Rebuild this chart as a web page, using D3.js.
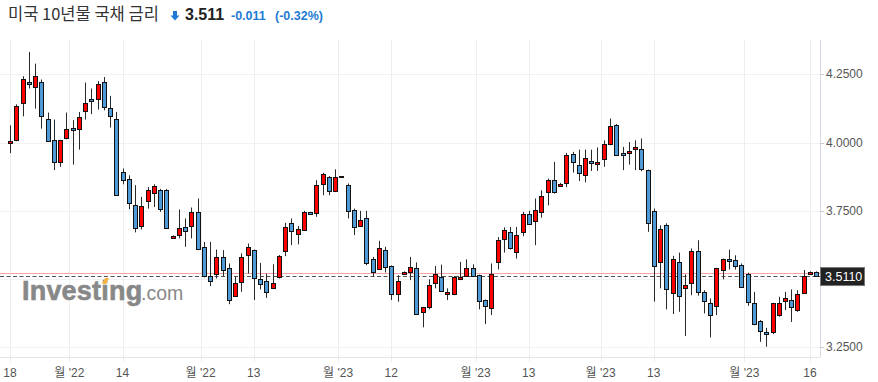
<!DOCTYPE html>
<html>
<head>
<meta charset="utf-8">
<script src="https://cdn.jsdelivr.net/npm/d3@7/dist/d3.min.js"></script>
<style>
  body { margin: 0; background: #fff; }
  svg { display: block; }
</style>
</head>
<body>
<div id="chart"></div>
<script>
let open = [3.996,4.011,4.143,4.223,4.205,4.223,4.088,4.008,3.927,4.015,
  4.055,4.048,4.116,4.161,4.161,4.220,4.128,4.088,3.892,3.865,
  3.773,3.694,3.786,3.816,3.828,3.828,3.652,3.660,3.689,3.694,
  3.746,3.618,3.513,3.520,3.581,3.539,3.437,3.488,3.586,3.606,
  3.499,3.493,3.467,3.508,3.600,3.704,3.667,3.682,3.744,3.744,
  3.847,3.872,3.824,3.877,3.846,3.752,3.696,3.725,3.575,3.536,
  3.606,3.548,3.447,3.519,3.526,3.542,3.376,3.398,3.488,3.508,
  3.444,3.444,3.499,3.511,3.542,3.514,3.423,3.392,3.561,3.645,
  3.671,3.600,3.673,3.740,3.712,3.744,3.818,3.861,3.843,3.850,
  3.957,3.919,3.883,3.932,3.919,3.938,3.994,4.066,3.963,3.960,
  3.978,3.978,3.899,3.749,3.561,3.697,3.451,3.563,3.469,3.484,
  3.603,3.451,3.414,3.401,3.533,3.572,3.569,3.551,3.520,3.414,
  3.346,3.305,3.305,3.370,3.418,3.425,3.390,3.449,3.520,3.526]

let high = [4.063,4.140,4.243,4.332,4.289,4.231,4.110,4.084,4.010,4.110,
  4.082,4.112,4.220,4.198,4.225,4.240,4.171,4.112,3.905,3.880,
  3.844,3.801,3.837,3.847,3.830,3.830,3.660,3.755,3.722,3.762,
  3.795,3.636,3.636,3.608,3.606,3.557,3.508,3.594,3.630,3.608,
  3.559,3.520,3.554,3.588,3.706,3.722,3.694,3.750,3.746,3.862,
  3.889,3.877,3.902,3.877,3.850,3.758,3.750,3.750,3.581,3.640,
  3.618,3.550,3.514,3.528,3.581,3.561,3.398,3.499,3.548,3.553,
  3.466,3.511,3.563,3.572,3.554,3.516,3.425,3.557,3.654,3.689,
  3.691,3.691,3.746,3.750,3.795,3.825,3.868,3.929,3.852,3.962,
  3.966,3.974,3.974,3.974,3.982,4.008,4.088,4.068,3.984,4.002,
  4.008,4.015,3.901,3.758,3.697,3.704,3.585,3.597,3.517,3.612,
  3.642,3.459,3.429,3.541,3.575,3.608,3.587,3.557,3.523,3.453,
  3.350,3.321,3.413,3.435,3.453,3.462,3.459,3.533,3.528,3.528]

let low = [3.961,4.005,4.096,4.198,4.124,4.051,4.005,3.899,3.911,4.012,
  3.919,3.974,4.084,4.104,4.121,4.118,4.055,3.807,3.847,3.756,
  3.671,3.682,3.758,3.764,3.746,3.687,3.650,3.649,3.618,3.649,
  3.606,3.506,3.474,3.502,3.511,3.408,3.435,3.453,3.520,3.423,
  3.462,3.431,3.463,3.502,3.584,3.624,3.627,3.680,3.736,3.728,
  3.807,3.807,3.819,3.877,3.722,3.661,3.694,3.551,3.508,3.533,
  3.524,3.423,3.417,3.517,3.496,3.368,3.323,3.389,3.466,3.453,
  3.423,3.441,3.496,3.508,3.508,3.389,3.335,3.368,3.535,3.597,
  3.608,3.575,3.657,3.700,3.624,3.725,3.770,3.813,3.841,3.837,
  3.890,3.859,3.854,3.896,3.896,3.911,3.990,3.954,3.899,3.919,
  3.899,3.895,3.673,3.417,3.466,3.389,3.372,3.380,3.291,3.441,
  3.439,3.374,3.286,3.368,3.499,3.535,3.535,3.469,3.402,3.331,
  3.270,3.252,3.298,3.362,3.386,3.343,3.380,3.445,3.518,3.509]

let close = [4.004,4.135,4.231,4.216,4.245,4.099,4.008,3.927,4.008,4.048,
  4.048,4.092,4.146,4.154,4.216,4.127,4.099,3.810,3.862,3.777,
  3.689,3.766,3.828,3.840,3.758,3.689,3.658,3.687,3.676,3.746,
  3.612,3.511,3.493,3.581,3.532,3.423,3.486,3.581,3.616,3.502,
  3.480,3.451,3.486,3.586,3.689,3.675,3.684,3.747,3.738,3.846,
  3.883,3.819,3.874,3.877,3.752,3.689,3.718,3.561,3.529,3.612,
  3.542,3.444,3.493,3.526,3.545,3.374,3.396,3.480,3.520,3.456,
  3.451,3.506,3.507,3.539,3.511,3.419,3.402,3.518,3.642,3.679,
  3.614,3.663,3.740,3.704,3.752,3.804,3.862,3.818,3.850,3.954,
  3.927,3.890,3.945,3.923,3.928,3.993,4.060,3.957,3.956,3.968,
  3.984,3.905,3.704,3.547,3.683,3.463,3.575,3.437,3.480,3.603,
  3.451,3.417,3.370,3.539,3.572,3.563,3.547,3.471,3.417,3.337,
  3.309,3.297,3.411,3.414,3.429,3.401,3.447,3.512,3.526,3.511]

let xTickIndex = [0, 9.5, 18, 30.5, 39, 52.5, 61, 74.5, 83, 94.5, 103, 117.5, 128]
let xTickLabels = ['18', "월 '22", '14', "월 '22", '13', "월 '23", '12', "월 '23", '13', "월 '23", '13', "월 '23", '16']
let yTicks = [3.25, 3.5, 3.75, 4.0, 4.25]
let yTickLabels = ['3.2500', '', '3.7500', '4.0000', '4.2500']

let lastPrice = 3.511
let prevClose = 3.522

let width = 878, height = 382
let plotRight = 820, plotTop = 40, plotBottom = 357

let candles = open.map((o, i) => ({ i: i, o: o, h: high[i], l: low[i], c: close[i] }))

let x = d3.scaleLinear()
  .domain([0, candles.length - 1])
  .range([10, 816.25])

let y = d3.scaleLinear()
  .domain([3.25, 4.25])
  .range([347.3, 74.3])

let svg = d3.select('#chart')
  .append('svg')
    .attr('width', width)
    .attr('height', height)
    .style('font-family', '"Liberation Sans", Arial, "Noto Sans CJK KR", sans-serif')

svg.append('rect')
  .attr('width', width)
  .attr('height', height)
  .attr('fill', '#fff')

//
// grid
//

svg.append('g')
  .selectAll('line')
  .data(yTicks)
  .enter().append('line')
    .attr('x1', 0)
    .attr('x2', plotRight)
    .attr('y1', d => Math.round(y(d)) + 0.5)
    .attr('y2', d => Math.round(y(d)) + 0.5)
    .attr('stroke', '#f1f1f1')

svg.append('g')
  .selectAll('line')
  .data(xTickIndex)
  .enter().append('line')
    .attr('x1', d => Math.round(x(d)) + 0.5)
    .attr('x2', d => Math.round(x(d)) + 0.5)
    .attr('y1', plotTop)
    .attr('y2', plotBottom + 5)
    .attr('stroke', '#eeeeee')

svg.append('line')
  .attr('x1', 0)
  .attr('x2', plotRight)
  .attr('y1', plotBottom + 0.5)
  .attr('y2', plotBottom + 0.5)
  .attr('stroke', '#e4e4e4')

svg.append('line')
  .attr('x1', plotRight + 0.5)
  .attr('x2', plotRight + 0.5)
  .attr('y1', plotTop)
  .attr('y2', plotBottom)
  .attr('stroke', '#d4dae3')

//
// axes labels
//

svg.append('g')
  .selectAll('text')
  .data(xTickIndex)
  .enter().append('text')
    .attr('x', d => x(d))
    .attr('y', 377)
    .attr('text-anchor', 'middle')
    .attr('font-size', 12)
    .attr('fill', '#555')
    .text((d, i) => xTickLabels[i])

let yAxis = svg.append('g')
yAxis.selectAll('line')
  .data(yTicks)
  .enter().append('line')
    .attr('x1', plotRight)
    .attr('x2', plotRight + 4)
    .attr('y1', d => Math.round(y(d)) + 0.5)
    .attr('y2', d => Math.round(y(d)) + 0.5)
    .attr('stroke', '#ccc')

yAxis.selectAll('text')
  .data(yTicks)
  .enter().append('text')
    .attr('x', 826)
    .attr('y', d => y(d) + 4)
    .attr('font-size', 12)
    .attr('fill', '#555')
    .text((d, i) => yTickLabels[i])

//
// watermark
//

let wm = svg.append('g')
let wmText = wm.append('text')
  .attr('x', 22)
  .attr('y', 300)
  .attr('font-size', 27)
  .attr('font-weight', 'bold')
  .attr('letter-spacing', 0.2)
  .attr('fill', '#888')
  .attr('stroke', '#888')
  .attr('stroke-width', 0.6)
  .text('Investing')

let iPos = wmText.node().getStartPositionOfChar(6).x
let iEnd = wmText.node().getEndPositionOfChar(6).x
let ic = (iPos + iEnd) / 2
wm.append('polygon')
  .attr('points', [[ic - 3, 284], [ic, 278], [ic + 4, 278], [ic + 1, 284]].map(p => p.join(',')).join(' '))
  .attr('fill', '#f3b441')

wm.append('text')
  .attr('x', 141)
  .attr('y', 300)
  .attr('font-size', 19.5)
  .attr('fill', '#888')
  .text('.com')

//
// price lines
//

svg.append('line')
  .attr('x1', 0)
  .attr('x2', plotRight)
  .attr('y1', Math.round(y(prevClose)) + 0.5)
  .attr('y2', Math.round(y(prevClose)) + 0.5)
  .attr('stroke', '#f5a5a5')

svg.append('line')
  .attr('x1', 0)
  .attr('x2', plotRight)
  .attr('y1', Math.round(y(lastPrice)) + 0.5)
  .attr('y2', Math.round(y(lastPrice)) + 0.5)
  .attr('stroke', '#555')
  .attr('stroke-dasharray', '4,2.5')

//
// candles
//

let g = svg.append('g')
  .selectAll('g')
  .data(candles)
  .enter().append('g')

g.append('line')
  .attr('x1', d => Math.round(x(d.i)) + 0.5)
  .attr('x2', d => Math.round(x(d.i)) + 0.5)
  .attr('y1', d => y(d.h))
  .attr('y2', d => y(d.l))
  .attr('stroke', '#2b2b2b')

g.append('rect')
  .attr('x', d => Math.round(x(d.i)) - 1.5)
  .attr('width', 4)
  .attr('y', d => Math.round(y(Math.max(d.o, d.c))) + 0.5)
  .attr('height', d => Math.max(1, Math.round(Math.abs(y(d.o) - y(d.c)))))
  .attr('fill', d => d.c >= d.o ? '#ff0000' : '#4d9ad6')
  .attr('stroke', '#111')

//
// last price label
//

svg.append('rect')
  .attr('x', plotRight + 0.5)
  .attr('y', y(lastPrice) - 8.5)
  .attr('width', 44)
  .attr('height', 18)
  .attr('fill', '#222')
  .attr('stroke', '#777')

svg.append('text')
  .attr('x', 825)
  .attr('y', y(lastPrice) + 4.5)
  .attr('font-size', 12.5)
  .attr('fill', '#fff')
  .text(lastPrice.toFixed(4))

//
// title
//

let title = svg.append('g')
title.append('text')
  .attr('x', 8)
  .attr('y', 20)
  .attr('font-size', 16.5)
  .attr('font-family', '"Noto Sans CJK KR", sans-serif')
  .attr('fill', '#333')
  .text('미국 10년물 국채 금리')

title.append('path')
  .attr('d', 'M173,11 h4 v4.5 h2.5 l-4.5,5 l-4.5,-5 h2.5 z')
  .attr('fill', '#1e7bd4')

title.append('text')
  .attr('x', 185)
  .attr('y', 20)
  .attr('font-size', 16)
  .attr('font-weight', 'bold')
  .attr('fill', '#222')
  .text('3.511')

title.append('text')
  .attr('x', 231)
  .attr('y', 20)
  .attr('font-size', 12.5)
  .attr('font-weight', 'bold')
  .attr('fill', '#1e7bd4')
  .text('-0.011')

title.append('text')
  .attr('x', 275)
  .attr('y', 20)
  .attr('font-size', 12.5)
  .attr('font-weight', 'bold')
  .attr('fill', '#1e7bd4')
  .text('(-0.32%)')
</script>
</body>
</html>
